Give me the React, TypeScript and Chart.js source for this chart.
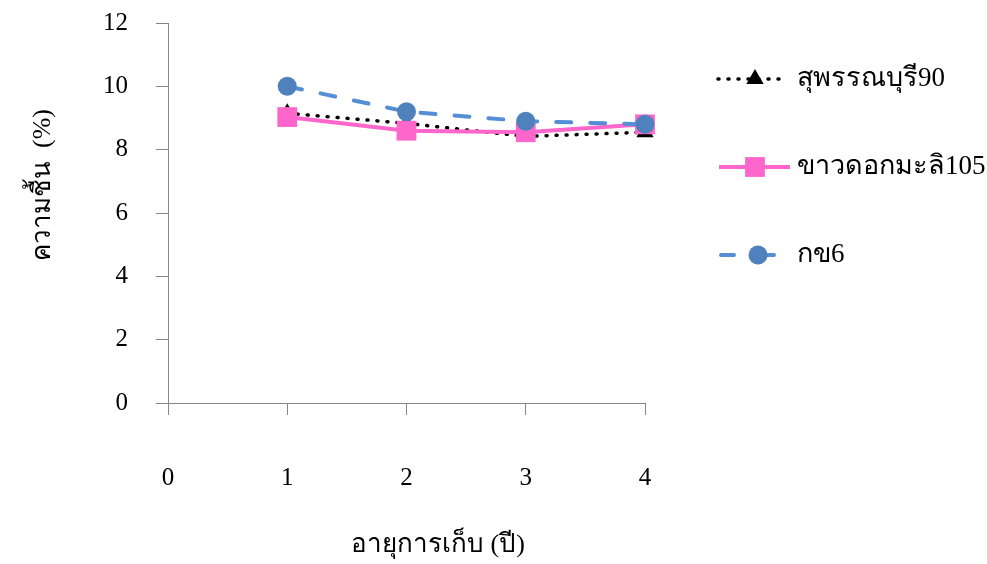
import React, { useEffect, useRef } from "react";
import { Chart, registerables } from "chart.js";

Chart.register(...registerables);

// Storage age (years) and moisture content (%) of three rice varieties
const storageYears = [1, 2, 3, 4];
const suphanburi90 = [9.15, 8.83, 8.42, 8.55];
const khaoDawkMali105 = [9.03, 8.6, 8.55, 8.8];
const rdSix = [10.0, 9.2, 8.9, 8.8];
const seriesNames = ["สุพรรณบุรี90", "ขาวดอกมะลิ105", "กข6"];
const xTitle = "อายุการเก็บ (ปี)";
const yTitle = "ความชื้น  (%)";

const FONT = "'Liberation Serif', 'Times New Roman', serif";
const AXIS_GREY = "#868686";

const toPoints = (vals: number[]) => storageYears.map((x, i) => ({ x, y: vals[i] }));

// Axis titles placed at fixed spots beside the plot
const axisTitles = {
  id: "axisTitles",
  afterDraw(chart: any) {
    const ctx = chart.ctx as CanvasRenderingContext2D;
    ctx.save();
    ctx.fillStyle = "#000";
    ctx.font = `26px ${FONT}`;
    ctx.textAlign = "center";
    ctx.textBaseline = "middle";
    ctx.fillText(xTitle, 438, 545);
    ctx.translate(43, 185);
    ctx.rotate(-Math.PI / 2);
    ctx.fillText(yTitle, 0, 0);
    ctx.restore();
  },
};

// Legend on the right: line sample with its marker, then the name
const sideLegend = {
  id: "sideLegend",
  afterDraw(chart: any) {
    const ctx = chart.ctx as CanvasRenderingContext2D;
    const rows = [79, 167, 255];
    chart.data.datasets.forEach((ds: any, i: number) => {
      const y = rows[i];
      const cx = 755;
      ctx.save();
      ctx.strokeStyle = ds.borderColor;
      ctx.lineWidth = ds.borderWidth;
      ctx.lineCap = ds.borderCapStyle || "butt";
      ctx.setLineDash(ds.legendDash || ds.borderDash || []);
      ctx.beginPath();
      ctx.moveTo(ds.legendFrom, y);
      ctx.lineTo(ds.legendTo, y);
      ctx.stroke();
      ctx.setLineDash([]);
      ctx.fillStyle = ds.pointBackgroundColor;
      const r = ds.pointRadius;
      ctx.beginPath();
      if (ds.pointStyle === "triangle") {
        ctx.moveTo(cx, y - r);
        ctx.lineTo(cx + r * 0.866, y + r / 2);
        ctx.lineTo(cx - r * 0.866, y + r / 2);
        ctx.closePath();
      } else if (ds.pointStyle === "rect") {
        const s = r * Math.SQRT1_2;
        ctx.rect(cx - s, y - s, 2 * s, 2 * s);
      } else {
        ctx.arc(cx + 3, y, r, 0, Math.PI * 2);
      }
      ctx.fill();
      ctx.fillStyle = "#000";
      ctx.font = `27px ${FONT}`;
      ctx.textAlign = "left";
      ctx.textBaseline = "middle";
      ctx.fillText(seriesNames[i], 797, y);
      ctx.restore();
    });
  },
};

export default function App() {
  const ref = useRef<HTMLCanvasElement>(null);

  useEffect(() => {
    if (!ref.current) return;
    const chart = new Chart(ref.current, {
      type: "line",
      data: {
        datasets: [
          {
            label: seriesNames[0],
            data: toPoints(suphanburi90),
            borderColor: "#000000",
            borderWidth: 3.5,
            borderDash: [1, 9],
            borderCapStyle: "round",
            pointStyle: "triangle",
            pointRadius: 10,
            pointBackgroundColor: "#000000",
            pointBorderColor: "#000000",
            pointBorderWidth: 0,
            order: 2,
            clip: false,
            legendFrom: 718,
            legendTo: 786,
          } as any,
          {
            label: seriesNames[1],
            data: toPoints(khaoDawkMali105),
            borderColor: "#FF66CC",
            borderWidth: 4,
            pointStyle: "rect",
            pointRadius: 14,
            pointBackgroundColor: "#FF66CC",
            pointBorderColor: "#FF66CC",
            pointBorderWidth: 0,
            order: 1,
            clip: false,
            legendFrom: 719,
            legendTo: 790,
          } as any,
          {
            label: seriesNames[2],
            data: toPoints(rdSix),
            borderColor: "#558ED5",
            borderWidth: 4,
            borderDash: [15, 19],
            borderCapStyle: "round",
            pointStyle: "circle",
            pointRadius: 9.5,
            pointBackgroundColor: "#4F81BD",
            pointBorderColor: "#4F81BD",
            pointBorderWidth: 0,
            order: 0,
            clip: false,
            legendFrom: 721,
            legendTo: 774,
            legendDash: [13, 29],
          } as any,
        ],
      },
      options: {
        responsive: false,
        animation: false,
        layout: { autoPadding: false, padding: { top: 23, right: 342, bottom: 0, left: 0 } },
        plugins: { legend: { display: false }, tooltip: { enabled: false } },
        scales: {
          x: {
            type: "linear",
            min: 0,
            max: 4,
            afterFit: (s: any) => {
              s.height = 161;
              s.paddingLeft = 0;
              s.paddingRight = 0;
            },
            ticks: {
              stepSize: 1,
              padding: 48,
              color: "#000",
              font: { family: FONT, size: 25 },
            },
            grid: {
              drawOnChartArea: false,
              drawTicks: true,
              tickLength: 12,
              color: AXIS_GREY,
            },
            border: { color: AXIS_GREY, width: 1 },
          },
          y: {
            min: 0,
            max: 12,
            afterFit: (s: any) => {
              s.width = 168;
              s.paddingTop = 0;
              s.paddingBottom = 0;
            },
            ticks: {
              stepSize: 2,
              padding: 28,
              color: "#000",
              font: { family: FONT, size: 25 },
            },
            grid: {
              drawOnChartArea: false,
              drawTicks: true,
              tickLength: 12,
              color: AXIS_GREY,
            },
            border: { color: AXIS_GREY, width: 1 },
          },
        },
      },
      plugins: [axisTitles, sideLegend],
    });
    return () => chart.destroy();
  }, []);

  return (
    <div style={{ position: "absolute", left: 0, top: 0, width: 987, height: 564, background: "#fff" }}>
      <canvas ref={ref} width={987} height={564} style={{ width: 987, height: 564 }} />
    </div>
  );
}
